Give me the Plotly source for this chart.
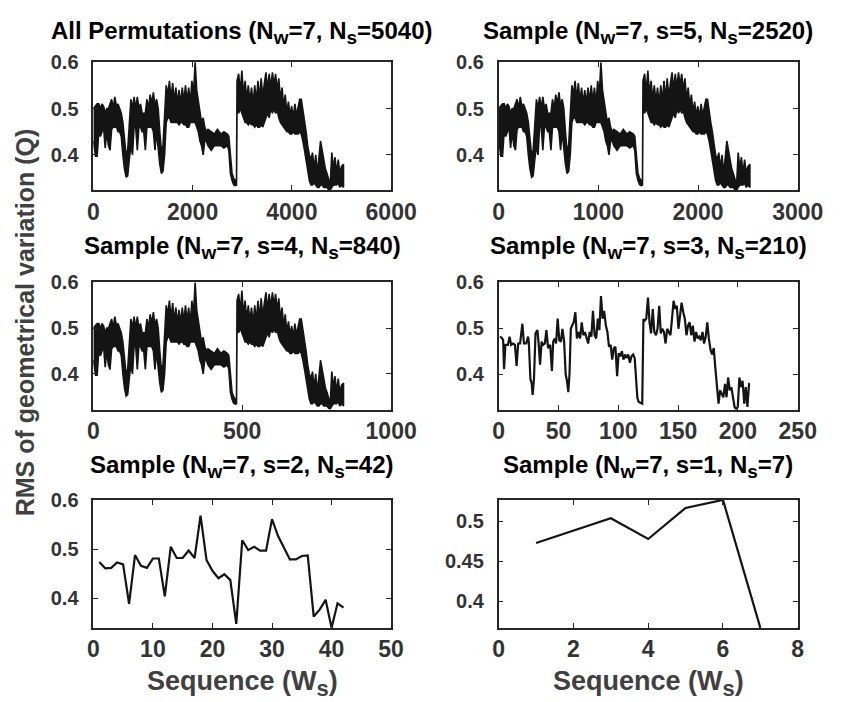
import plotly.graph_objects as go

# ---------------- data ----------------
# envelope (low / high) of the dense permutation series;
# position given as permutation rank within the full set of 5040
env_rank = [1, 45, 77, 110, 142, 175, 207, 239, 271, 304, 336, 369, 401, 433, 466, 498, 530, 563,
            595, 627, 660, 692, 724, 757, 789, 821, 854, 886, 918, 951, 983, 1016, 1048, 1080,
            1113, 1145, 1177, 1210, 1242, 1274, 1307, 1339, 1371, 1404, 1436, 1468, 1501, 1533,
            1566, 1598, 1630, 1663, 1695, 1727, 1760, 1792, 1824, 1857, 1889, 1921, 1954, 1986,
            2018, 2051, 2083, 2115, 2148, 2180, 2213, 2245, 2277, 2310, 2375, 2440, 2500, 2570,
            2630, 2700, 2730, 2762, 2795, 2827, 2860, 2885, 2895, 2928, 2961, 2993, 3025, 3058,
            3090, 3122, 3155, 3187, 3220, 3252, 3284, 3317, 3349, 3381, 3414, 3446, 3478, 3511,
            3543, 3575, 3608, 3640, 3672, 3705, 3737, 3769, 3802, 3834, 3866, 3899, 3931, 3963,
            3996, 4028, 4061, 4093, 4125, 4158, 4190, 4222, 4255, 4287, 4319, 4352, 4384, 4416,
            4449, 4481, 4514, 4546, 4578, 4611, 4643, 4675, 4708, 4740, 4773, 4805, 4837, 4869,
            4902, 4934, 4966, 4999, 5040]
env_lo = [0.43, 0.397, 0.397, 0.45, 0.44, 0.45, 0.46, 0.415, 0.45, 0.42, 0.41, 0.455, 0.46, 0.46,
          0.46, 0.45, 0.45, 0.44, 0.40, 0.37, 0.352, 0.355, 0.39, 0.42, 0.40, 0.46, 0.46, 0.41,
          0.46, 0.46, 0.45, 0.45, 0.41, 0.46, 0.46, 0.46, 0.46, 0.45, 0.41, 0.45, 0.42, 0.38,
          0.36, 0.365, 0.40, 0.47, 0.48, 0.48, 0.47, 0.47, 0.47, 0.47, 0.47, 0.465, 0.47, 0.47,
          0.465, 0.465, 0.46, 0.46, 0.47, 0.47, 0.47, 0.47, 0.46, 0.45, 0.43, 0.42, 0.40, 0.43,
          0.43, 0.42, 0.41, 0.42, 0.42, 0.42, 0.415, 0.42, 0.41, 0.36, 0.345, 0.336, 0.334, 0.335,
          0.50, 0.49, 0.50, 0.49, 0.48, 0.47, 0.47, 0.465, 0.47, 0.465, 0.465, 0.46, 0.465, 0.46,
          0.46, 0.465, 0.46, 0.47, 0.48, 0.49, 0.48, 0.50, 0.49, 0.50, 0.49, 0.495, 0.48, 0.47,
          0.465, 0.46, 0.455, 0.45, 0.45, 0.445, 0.445, 0.45, 0.445, 0.445, 0.445, 0.45, 0.445,
          0.43, 0.41, 0.39, 0.37, 0.345, 0.335, 0.335, 0.34, 0.335, 0.33, 0.33, 0.335, 0.335,
          0.33, 0.33, 0.33, 0.325, 0.324, 0.33, 0.335, 0.335, 0.335, 0.34, 0.33, 0.335, 0.33]
env_hi = [0.50, 0.505, 0.51, 0.51, 0.50, 0.51, 0.505, 0.49, 0.50, 0.50, 0.51, 0.52, 0.50, 0.525,
          0.505, 0.51, 0.50, 0.49, 0.47, 0.43, 0.40, 0.41, 0.47, 0.52, 0.50, 0.525, 0.50, 0.525,
          0.50, 0.51, 0.49, 0.49, 0.49, 0.52, 0.50, 0.53, 0.51, 0.535, 0.505, 0.52, 0.50, 0.45,
          0.41, 0.42, 0.48, 0.55, 0.53, 0.56, 0.52, 0.555, 0.515, 0.545, 0.51, 0.54, 0.51, 0.545,
          0.515, 0.55, 0.515, 0.545, 0.51, 0.56, 0.53, 0.60, 0.54, 0.52, 0.49, 0.47, 0.48, 0.46,
          0.45, 0.455, 0.45, 0.445, 0.455, 0.445, 0.45, 0.445, 0.44, 0.40, 0.36, 0.35, 0.345, 0.345,
          0.56, 0.575, 0.535, 0.582, 0.53, 0.56, 0.52, 0.55, 0.515, 0.545, 0.51, 0.55, 0.515, 0.56,
          0.52, 0.565, 0.525, 0.555, 0.578, 0.54, 0.575, 0.545, 0.578, 0.55, 0.575, 0.54, 0.565,
          0.52, 0.545, 0.505, 0.53, 0.49, 0.515, 0.485, 0.505, 0.48, 0.51, 0.485, 0.505, 0.52, 0.52,
          0.50, 0.47, 0.45, 0.42, 0.40, 0.39, 0.405, 0.37, 0.40, 0.36, 0.395, 0.43, 0.41, 0.39,
          0.37, 0.36, 0.345, 0.335, 0.405, 0.37, 0.395, 0.36, 0.39, 0.36, 0.375, 0.38]

n_all, n_s5, n_s4 = 5040, 2520, 840

# s = 3 sample (210 sequences)
seq_s3 = [1, 2.4, 3.7, 4.5, 5.6, 7.7, 9.1, 10.4, 12, 13.6, 15, 16.3, 17.9, 19.8, 21.1, 23, 24.6,
          25.2, 26.5, 27.6, 28.4, 29.5, 30.8, 32.4, 33.5, 34.6, 35.9, 37.2, 38.6, 39.9, 41.3, 43.1,
          44.5, 45.6, 46.9, 48, 49.3, 50.7, 52, 53.3, 54.7, 56, 57.1, 58.2, 59.2, 60.3, 61.4, 62.7,
          64.1, 65.4, 66.8, 68.1, 69.4, 70.8, 72.1, 73.5, 74.8, 76.1, 77.5, 78.8, 80.2, 81.5, 82.9,
          84.2, 85.5, 86.9, 88.2, 89.6, 90.9, 92.2, 93.6, 94.9, 96.3, 97.6, 99, 100.3, 101.6, 103,
          104.3, 105.7, 107, 108.3, 109.7, 111, 112.4, 113.7, 115.1, 115.9, 116.9, 119.1, 120,
          121, 122.1, 123.4, 124.8, 126.1, 127.4, 128.8, 130.1, 131.5, 132.8, 134.2, 135.5, 136.8,
          138.2, 139.5, 140.9, 142.2, 143.6, 144.9, 146.2, 147.6, 148.9, 150.3, 151.6, 152.9,
          154.3, 155.6, 157, 158.3, 159.6, 161, 162.3, 163.7, 165, 166.4, 167.7, 169, 170.4,
          171.7, 173.1, 174.4, 175.7, 177.1, 178.4, 179.8, 181.1, 182.5, 183.8, 185.1, 186.5,
          187.8, 189.2, 190.5, 191.8, 193.2, 194.5, 195.9, 197.2, 198.5, 199.9, 201.2, 202.6,
          203.9, 205.3, 206.6, 207.9, 209.3, 210]
rms_s3 = [0.482, 0.480, 0.475, 0.411, 0.464, 0.464, 0.482, 0.464, 0.467, 0.464, 0.418, 0.467,
          0.467, 0.510, 0.467, 0.467, 0.482, 0.470, 0.390, 0.380, 0.355, 0.390, 0.489, 0.496,
          0.464, 0.421, 0.471, 0.464, 0.467, 0.496, 0.457, 0.464, 0.407, 0.471, 0.478, 0.467,
          0.521, 0.474, 0.471, 0.499, 0.471, 0.400, 0.386, 0.361, 0.400, 0.499, 0.506, 0.513,
          0.535, 0.478, 0.492, 0.478, 0.513, 0.485, 0.492, 0.478, 0.467, 0.492, 0.482, 0.538,
          0.485, 0.478, 0.521, 0.496, 0.570, 0.521, 0.538, 0.506, 0.492, 0.460, 0.464, 0.432,
          0.457, 0.460, 0.396, 0.446, 0.439, 0.450, 0.432, 0.443, 0.435, 0.443, 0.425, 0.439,
          0.443, 0.435, 0.379, 0.350, 0.340, 0.336, 0.336, 0.520, 0.517, 0.521, 0.567, 0.513,
          0.489, 0.542, 0.492, 0.485, 0.499, 0.549, 0.489, 0.499, 0.492, 0.467, 0.499, 0.492,
          0.485, 0.521, 0.560, 0.542, 0.549, 0.499, 0.535, 0.556, 0.535, 0.521, 0.485, 0.506,
          0.513, 0.485, 0.506, 0.471, 0.492, 0.478, 0.482, 0.474, 0.492, 0.467, 0.482, 0.513,
          0.478, 0.453, 0.443, 0.457, 0.414, 0.365, 0.336, 0.365, 0.357, 0.350, 0.379, 0.350,
          0.393, 0.365, 0.372, 0.343, 0.329, 0.325, 0.329, 0.393, 0.372, 0.386, 0.336, 0.372,
          0.329, 0.379, 0.379]

# s = 2 sample (42 sequences)
seq_s2 = list(range(1, 43))
rms_s2 = [0.474, 0.461, 0.462, 0.473, 0.469, 0.389, 0.488, 0.466, 0.462, 0.481, 0.481, 0.404,
          0.505, 0.482, 0.482, 0.497, 0.482, 0.568, 0.478, 0.456, 0.441, 0.449, 0.437, 0.348,
          0.518, 0.498, 0.505, 0.497, 0.497, 0.561, 0.527, 0.503, 0.479, 0.479, 0.486, 0.487,
          0.363, 0.377, 0.397, 0.340, 0.390, 0.381]

# s = 1 sample (7 sequences)
seq_s1 = [1, 2, 3, 4, 5, 6, 7]
rms_s1 = [0.473, 0.488, 0.504, 0.478, 0.517, 0.527, 0.3667]

SUB = "<sub><span style='font-size:19px'>{}</span></sub>"
titles = [
    "All Permutations (N" + SUB.format("w") + "=7, N" + SUB.format("s") + "=5040)",
    "Sample (N" + SUB.format("w") + "=7, s=5, N" + SUB.format("s") + "=2520)",
    "Sample (N" + SUB.format("w") + "=7, s=4, N" + SUB.format("s") + "=840)",
    "Sample (N" + SUB.format("w") + "=7, s=3, N" + SUB.format("s") + "=210)",
    "Sample (N" + SUB.format("w") + "=7, s=2, N" + SUB.format("s") + "=42)",
    "Sample (N" + SUB.format("w") + "=7, s=1, N" + SUB.format("s") + "=7)",
]
x_ranges = [[0, 6000], [0, 3000], [0, 1000], [0, 250], [0, 50], [0, 8]]
x_ticks = [[0, 2000, 4000, 6000], [0, 1000, 2000, 3000], [0, 500, 1000],
           [0, 50, 100, 150, 200, 250], [0, 10, 20, 30, 40, 50], [0, 2, 4, 6, 8]]
y_ranges = [[0.324, 0.6], [0.324, 0.6], [0.322, 0.6], [0.323, 0.6], [0.34, 0.6], [0.3667, 0.527]]
y_ticks = [[0.4, 0.5, 0.6]] * 5 + [[0.4, 0.45, 0.5]]
y_ticktext = [["0.4", "0.5", "0.6"]] * 5 + [["0.4", "0.45", "0.5"]]
ylabel = "RMS of geometrical variation (Q)"
xlabel = "Sequence (W<sub><span style='font-size:22px'>s</span></sub>)"

# ---------------- layout geometry ----------------
W, H = 861, 702
col_px = [(90.7, 400.0), (511.7, 822.3)]
row_px = [(52.0, 182.0), (275.7, 405.0), (496.7, 626.7)]
title_mid_px = [22, 240, 463]

FONT = "Liberation Sans, Arial, sans-serif"
AX_COL = "#262626"
LINE_COL = "#141414"

fig = go.Figure()

def band(rank, lo, hi, n_s, axis):
    xs = [r * n_s / n_all for r in rank]
    fig.add_trace(go.Scatter(
        x=xs + xs[::-1], y=hi + lo[::-1], mode="lines", fill="toself",
        fillcolor=LINE_COL, line=dict(color=LINE_COL, width=1.6),
        xaxis="x" + axis, yaxis="y" + axis, showlegend=False, hoverinfo="skip"))

band(env_rank, env_lo, env_hi, n_all, "")
band(env_rank, env_lo, env_hi, n_s5, "2")
band(env_rank, env_lo, env_hi, n_s4, "3")
for seq, val, ax in [(seq_s3, rms_s3, "4"), (seq_s2, rms_s2, "5"), (seq_s1, rms_s1, "6")]:
    fig.add_trace(go.Scatter(x=seq, y=val, mode="lines",
                             line=dict(color=LINE_COL, width=2.2),
                             xaxis="x" + ax, yaxis="y" + ax, showlegend=False))

layout = dict(width=W, height=H, margin=dict(l=0, r=0, t=0, b=0),
              paper_bgcolor="white", plot_bgcolor="white", showlegend=False)
annotations = []
for i in range(6):
    r, c = divmod(i, 2)
    x0, x1 = col_px[c]
    y0, y1 = row_px[r]
    suffix = "" if i == 0 else str(i + 1)
    common = dict(showline=True, linecolor=AX_COL, linewidth=1.6, mirror="ticks",
                  ticks="inside", ticklen=5, tickwidth=1.4, tickcolor=AX_COL,
                  showgrid=False, zeroline=False, fixedrange=True)
    layout["xaxis" + suffix] = dict(
        domain=[x0 / W, x1 / W], anchor="y" + suffix, range=x_ranges[i],
        tickvals=x_ticks[i], ticklabelstandoff=0,
        tickfont=dict(family=FONT, size=23, color="#333333", weight="bold"), **common)
    layout["yaxis" + suffix] = dict(
        domain=[1 - y1 / H, 1 - y0 / H], anchor="x" + suffix, range=y_ranges[i],
        tickvals=y_ticks[i], ticktext=y_ticktext[i], ticklabelstandoff=9,
        tickfont=dict(family=FONT, size=20, color="#333333", weight="bold"), **common)
    annotations.append(dict(
        text="<b>" + titles[i] + "</b>", xref="paper", yref="paper",
        x=(x0 + x1) / 2 / W, y=1 - title_mid_px[r] / H, xanchor="center", yanchor="middle",
        showarrow=False, font=dict(family=FONT, size=24, color="#000000")))

for c in range(2):
    x0, x1 = col_px[c]
    annotations.append(dict(
        text="<b>" + xlabel + "</b>", xref="paper", yref="paper",
        x=(x0 + x1) / 2 / W, y=1 - 683 / H, xanchor="center", yanchor="middle",
        showarrow=False, font=dict(family=FONT, size=27, color="#404040")))

annotations.append(dict(
    text="<b>" + ylabel + "</b>", xref="paper", yref="paper", textangle=-90,
    x=20 / W, y=1 - 316 / H, xanchor="center", yanchor="middle",
    showarrow=False, font=dict(family=FONT, size=25, color="#404040")))

layout["annotations"] = annotations
fig.update_layout(**layout)
fig.write_html("out.html")
